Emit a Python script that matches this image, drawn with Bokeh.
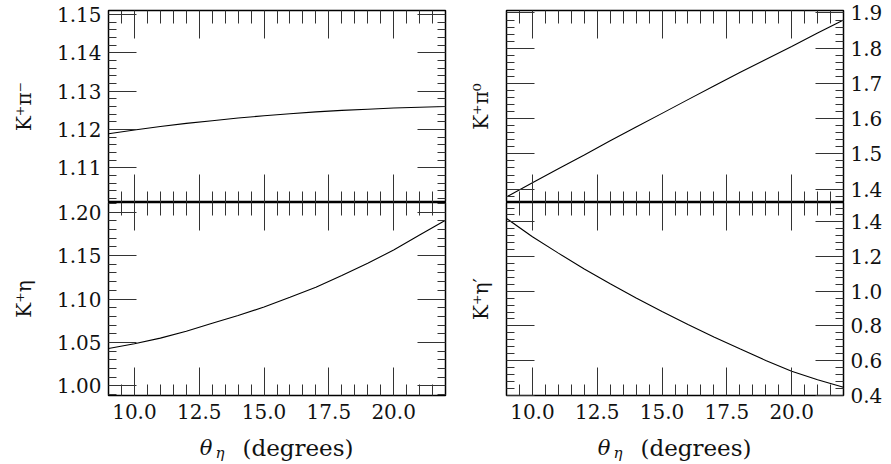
import numpy as np
from bokeh.plotting import figure
from bokeh.models import LinearAxis, FixedTicker, Range1d, PrintfTickFormatter, Grid
from bokeh.layouts import column, row
from bokeh.core.properties import value
from bokeh.embed import file_html
from bokeh.resources import INLINE

# ---- data ----
theta = [9, 10, 11, 12, 13, 14, 15, 16, 17, 18, 19, 20, 21, 22]
k_pim = [1.1189, 1.1199, 1.1208, 1.1216, 1.1223, 1.1230, 1.1236, 1.1241,
         1.1246, 1.1250, 1.1253, 1.1256, 1.1258, 1.1260]
k_pi0 = [1.378, 1.418, 1.458, 1.497, 1.537, 1.576, 1.615, 1.654, 1.693,
         1.731, 1.768, 1.805, 1.843, 1.880]
k_eta = [1.0431, 1.0485, 1.055, 1.063, 1.072, 1.081, 1.0908, 1.102, 1.1135,
         1.127, 1.141, 1.1564, 1.1736, 1.1907]
k_etap = [1.420, 1.314, 1.220, 1.128, 1.043, 0.961, 0.883, 0.808, 0.736,
          0.668, 0.601, 0.538, 0.489, 0.446]

# ---- ticks ----
x_major = [10.0, 12.5, 15.0, 17.5, 20.0]
x_minor = [9.5, 10.5, 11.0, 11.5, 12.0, 13.0, 13.5, 14.0, 14.5, 15.5, 16.0, 16.5,
           17.0, 18.0, 18.5, 19.0, 19.5, 20.5, 21.0, 21.5]
tl_major = [1.11, 1.12, 1.13, 1.14, 1.15]
tr_major = [1.4, 1.5, 1.6, 1.7, 1.8, 1.9]
bl_major = [1.00, 1.05, 1.10, 1.15, 1.20]
br_major = [0.4, 0.6, 0.8, 1.0, 1.2, 1.4]

x_title_parts = ["θ", "η", "(degrees)"]
y_titles = ["K⁺π⁻", "K⁺π⁰", "K⁺η", "K⁺η′"]


def minors(lo, hi, step, majors):
    vals = np.round(np.arange(lo, hi + step / 2, step), 4)
    return [float(v) for v in vals if all(abs(v - m) > step / 10 for m in majors)]


tl_minor = minors(1.102, 1.150, 0.002, tl_major)
tr_minor = minors(1.36, 1.90, 0.02, tr_major)
bl_minor = minors(0.99, 1.21, 0.01, bl_major)
br_minor = minors(0.40, 1.50, 0.04, br_major)

FONT = "DejaVu Serif"
TICK = "#333333"
FS = "20px"
TXT = "#111111"


def make_axis(ticks, minor, fmt=None, major_in=28, minor_in=8, standoff=7):
    ax = LinearAxis(ticker=FixedTicker(ticks=ticks, minor_ticks=minor),
                    major_tick_in=major_in, major_tick_out=0,
                    minor_tick_in=minor_in, minor_tick_out=0,
                    axis_line_color=None,
                    major_tick_line_color=TICK, minor_tick_line_color=TICK,
                    major_tick_line_width=1, minor_tick_line_width=1,
                    major_label_text_font=FONT, major_label_text_font_size=FS,
                    major_label_text_color=TXT,
                    axis_label_text_font=FONT, axis_label_text_font_size=FS,
                    axis_label_text_font_style="normal", axis_label_text_color=TXT)
    if fmt is None:
        ax.major_label_text_font_size = "1px"
        ax.major_label_text_color = None
        ax.major_label_standoff = 0
    else:
        ax.formatter = PrintfTickFormatter(format=fmt)
        ax.major_label_standoff = standoff
    return ax


def panel(y, yr, ymaj, ymin, yfmt, ylabel, right_side, bottom, fh, borders):
    bl, br, bt, bb = borders
    p = figure(frame_width=337, frame_height=fh,
               x_range=Range1d(9, 22), y_range=Range1d(*yr),
               output_backend="svg", toolbar_location=None,
               x_axis_location=None, y_axis_location=None,
               min_border_left=bl, min_border_right=br,
               min_border_top=bt, min_border_bottom=bb,
               outline_line_color="black", outline_line_width=1.5,
               background_fill_color="white", border_fill_color="white")
    for r in list(p.center):
        if isinstance(r, Grid):
            r.visible = False
    p.line(theta, y, line_color="black", line_width=1.1)

    left = make_axis(ymaj, ymin, None if right_side else yfmt)
    right = make_axis(ymaj, ymin, yfmt if right_side else None)
    left.axis_label = ylabel
    left.axis_label_standoff = 14 if right_side else 18
    top = make_axis(x_major, x_minor, None, minor_in=13)
    bot = make_axis(x_major, x_minor, "%.1f" if bottom else None, minor_in=11, standoff=8)
    p.add_layout(left, "left")
    p.add_layout(right, "right")
    p.add_layout(top, "above")
    p.add_layout(bot, "below")
    return p


p1 = panel(k_pim, (1.101, 1.151), tl_major, tl_minor, "%.2f", y_titles[0], False, False, 192, (108, 10, 10, 0))
p2 = panel(k_pi0, (1.362, 1.907), tr_major, tr_minor, "%.1f", y_titles[1], True, False, 192, (51, 48, 10, 0))
p3 = panel(k_eta, (0.989, 1.211), bl_major, bl_minor, "%.2f", y_titles[2], False, True, 193, (108, 10, 0, 32))
p4 = panel(k_etap, (0.3985, 1.512), br_major, br_minor, "%.1f", y_titles[3], True, True, 193, (51, 48, 0, 32))

# strip holding the x-axis titles (pixel coordinates, y measured from top)
strip = figure(frame_width=891, frame_height=37, x_range=Range1d(0, 891), y_range=Range1d(37, 0),
               output_backend="svg", toolbar_location=None,
               x_axis_location=None, y_axis_location=None,
               min_border_left=0, min_border_right=0, min_border_top=0, min_border_bottom=0,
               outline_line_color=None, background_fill_color="white", border_fill_color="white")
for r in list(strip.center):
    if isinstance(r, Grid):
        r.visible = False
for x0 in (108.5, 506.5):
    strip.text(x=[x0 + 97], y=[20], text=[x_title_parts[0]], text_align="center",
               text_baseline="alphabetic", text_font=value(FONT), text_font_size="21px",
               text_font_style="italic", text_color=TXT)
    strip.text(x=[x0 + 111], y=[25], text=[x_title_parts[1]], text_align="center",
               text_baseline="alphabetic", text_font=value(FONT), text_font_size="15px",
               text_font_style="italic", text_color=TXT)
    strip.text(x=[x0 + 189], y=[20], text=[x_title_parts[2]], text_align="center",
               text_baseline="alphabetic", text_font=value(FONT), text_font_size="23px",
               text_color=TXT)

layout = column(row(p1, p2), row(p3, p4), strip)
open("out.html", "w").write(file_html(layout, INLINE))
